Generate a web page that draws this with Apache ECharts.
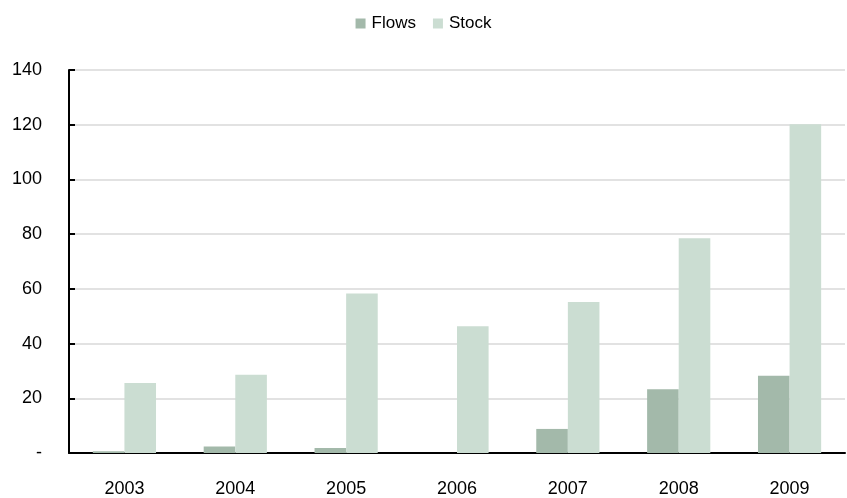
<!DOCTYPE html>
<html><head><meta charset="utf-8">
<script src="https://cdn.jsdelivr.net/npm/echarts@6/dist/echarts.min.js"></script>
<style>html,body{margin:0;padding:0;background:#fff}#c{width:847px;height:498px}</style>
</head><body><div id="c"></div>
<script>
const categories = ['2003','2004','2005','2006','2007','2008','2009'];
const flows = [0.6, 2.4, 1.8, 0, 8.8, 23.3, 28.2];
const stock = [25.6, 28.6, 58.3, 46.3, 55.2, 78.5, 120.2];
const yTicks = [0, 20, 40, 60, 80, 100, 120, 140];
const FONT = '"Liberation Sans", Arial, sans-serif';
const chart = echarts.init(document.getElementById('c'));
chart.setOption({
  animation: false,
  textStyle: { fontFamily: FONT },
  legend: {
    top: 10, left: 'center', itemWidth: 10, itemHeight: 10, itemGap: 17,
    icon: 'rect',
    textStyle: { fontFamily: FONT, fontSize: 17, color: '#000', padding: [0, 0, 0, 1] },
    data: ['Flows', 'Stock']
  },
  grid: { left: 69, right: 2, top: 70, bottom: 44.5, containLabel: false },
  xAxis: {
    type: 'category', data: categories,
    axisLine: { lineStyle: { color: '#000', width: 2 } },
    axisTick: { show: false },
    axisLabel: { fontFamily: FONT, fontSize: 18, color: '#000', margin: 27 }
  },
  yAxis: {
    type: 'value', min: yTicks[0], max: yTicks[yTicks.length - 1], interval: 20,
    axisLine: { show: true, lineStyle: { color: '#000', width: 2 } },
    axisTick: { show: true, inside: true, length: 6, lineStyle: { color: '#000', width: 2 } },
    splitLine: { lineStyle: { color: '#d9d9d9', width: 1.5 } },
    axisLabel: {
      fontFamily: FONT, fontSize: 18, color: '#000', margin: 27,
      formatter: v => v === 0 ? '-' : String(v)
    }
  },
  series: [
    { name: 'Flows', type: 'bar', data: flows, barGap: '0%', barCategoryGap: '43%',
      itemStyle: { color: '#a3b9aa' } },
    { name: 'Stock', type: 'bar', data: stock, barGap: '0%', barCategoryGap: '43%',
      itemStyle: { color: '#cbddd2' } }
  ]
});
</script></body></html>
